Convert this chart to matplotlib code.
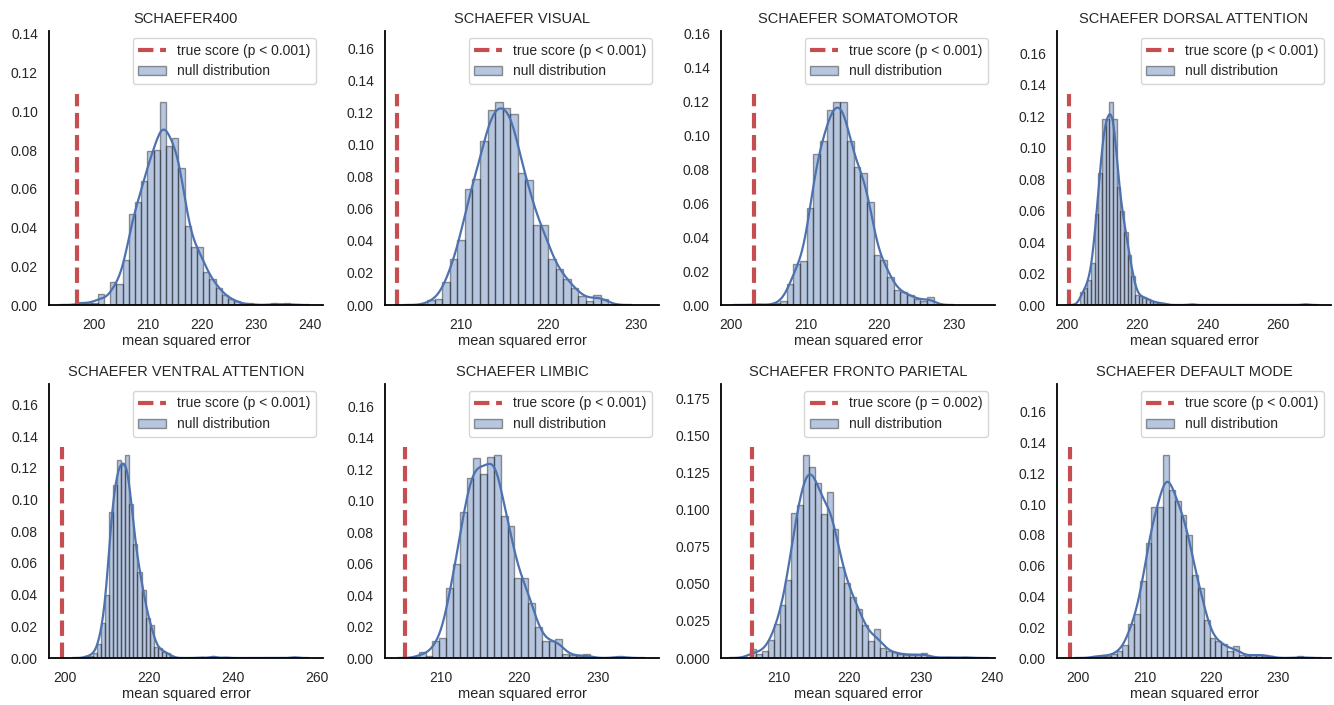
import matplotlib
matplotlib.use("Agg")
import matplotlib.pyplot as plt
import numpy as np
from matplotlib.lines import Line2D
from matplotlib.patches import Patch

plt.rcParams["font.family"] = ["Liberation Sans", "DejaVu Sans"]
plt.rcParams["text.color"] = "0.15"
plt.rcParams["axes.labelcolor"] = "0.15"
plt.rcParams["xtick.color"] = "0.15"
plt.rcParams["ytick.color"] = "0.15"

titles = ["SCHAEFER400", "SCHAEFER VISUAL", "SCHAEFER SOMATOMOTOR", "SCHAEFER DORSAL ATTENTION",
          "SCHAEFER VENTRAL ATTENTION", "SCHAEFER LIMBIC", "SCHAEFER FRONTO PARIETAL",
          "SCHAEFER DEFAULT MODE"]
p_labels = ["p < 0.001", "p < 0.001", "p < 0.001", "p < 0.001",
            "p < 0.001", "p < 0.001", "p = 0.002", "p < 0.001"]
true_scores = [196.9, 202.8, 203.0, 200.8, 199.3, 205.4, 206.2, 198.8]

# histogram bins: left edge of first bin, bin width, density per bin
bin_starts = [197.3, 206.2, 202.95, 203.8, 204.7, 207.2, 206.0, 202.25]
bin_widths = [1.146, 0.86, 0.903, 1.04, 0.97, 0.87, 0.83, 0.875]

h_s400 = [0.0014, 0.001, 0.001, 0.0057, 0.0, 0.0117, 0.011, 0.023, 0.047, 0.053, 0.064,
          0.0795, 0.080, 0.1048, 0.082, 0.086, 0.0708, 0.0407, 0.0297, 0.0297, 0.0172,
          0.0132, 0.009, 0.005, 0.003, 0.002, 0, 0.0008, 0, 0, 0, 0.0008, 0, 0.0008]
h_visual = [0.003, 0.004, 0.0144, 0.0288, 0.0407, 0.0726, 0.0788, 0.1025, 0.1214, 0.1265,
            0.1226, 0.119, 0.0823, 0.0778, 0.050, 0.050, 0.0284, 0.0226, 0.016, 0.0109,
            0.0058, 0.0027, 0.0062, 0.0037]
h_somato = [0.0007, 0, 0, 0.001, 0.0025, 0.0122, 0.0244, 0.0258, 0.0568, 0.0888, 0.0965,
            0.115, 0.1194, 0.1194, 0.0965, 0.081, 0.0777, 0.0605, 0.0297, 0.0267, 0.0167,
            0.0089, 0.0074, 0.0058, 0.0035, 0.0025, 0.0048]
h_dorsal = [0.008, 0.0105, 0.016, 0.027, 0.058, 0.084, 0.118, 0.118, 0.129, 0.118, 0.075,
            0.060, 0.0467, 0.032, 0.0184, 0.0063, 0.0059, 0.0048, 0.0038, 0.0027, 0.0017,
            0.0013, 0.0013, 0.0006, 0, 0, 0, 0, 0, 0, 0.0009] + [0] * 30 + [0.0009]
h_ventral = [0.001, 0.0015, 0.003, 0.009, 0.022, 0.040, 0.092, 0.109, 0.125, 0.122, 0.128,
             0.097, 0.072, 0.054, 0.043, 0.025, 0.021, 0.007, 0.006, 0.004, 0.003, 0.001,
             0, 0, 0, 0, 0, 0, 0.0006, 0, 0, 0.0015, 0, 0, 0.0006] \
    + [0] * 16 + [0.0009]
h_limbic = [0.0036, 0.0015, 0.011, 0.013, 0.0443, 0.060, 0.093, 0.1146, 0.127, 0.117,
            0.1276, 0.129, 0.090, 0.084, 0.051, 0.0506, 0.0348, 0.0194, 0.011, 0.0105,
            0.012, 0.0025, 0.002, 0.001, 0.0025, 0, 0, 0, 0, 0.0015]
h_fronto = [0.006, 0.0027, 0.005, 0.0119, 0.023, 0.0358, 0.0526, 0.098, 0.103, 0.137,
            0.129, 0.118, 0.0973, 0.112, 0.0868, 0.0615, 0.0508, 0.041, 0.0331, 0.022,
            0.0112, 0.0197, 0.0067, 0.0045, 0.0038, 0.0027, 0.0022, 0.0022, 0.0022, 0.0034,
            0.001, 0, 0, 0.001, 0, 0, 0.001]
h_default = [0.0015, 0.0015, 0.001, 0.0028, 0.0043, 0.0086, 0.022, 0.0284, 0.050, 0.075,
             0.098, 0.098, 0.132, 0.1095, 0.102, 0.093, 0.0797, 0.0539, 0.0453, 0.0248,
             0.0129, 0.0112, 0.009, 0.0047, 0.0075, 0.0022, 0.001, 0.0022, 0.0022, 0.0017,
             0.001, 0, 0, 0, 0, 0.001]
heights = [h_s400, h_visual, h_somato, h_dorsal, h_ventral, h_limbic, h_fronto, h_default]

x_limits = [(191.7, 242.4), (201.4, 232.6), (198.6, 235.6), (197.3, 275.0),
            (196.3, 261.4), (202.9, 237.8), (201.9, 240.5), (196.8, 238.0)]

n_perm = 1000
blue = "#4c72b0"
red = "#c44e52"

fig = plt.figure(figsize=(13.34, 7.05), dpi=100)

for i in range(8):
    row, col = divmod(i, 4)
    left = (49 + 336 * col) / 1334
    bottom = (1 - 305 / 705) if row == 0 else (1 - 658 / 705)
    ax = fig.add_axes([left, bottom, 274 / 1334, 274 / 705])

    h = np.array(heights[i], dtype=float)
    w = bin_widths[i]
    edges = bin_starts[i] + w * np.arange(len(h))
    keep = h > 0
    ax.bar(edges[keep], h[keep], width=w, align="edge", color=blue, alpha=0.4,
           edgecolor="black", linewidth=1.0)

    # gaussian kde of the binned null distribution
    centers = edges + w / 2
    mass = h * w
    mu = np.sum(mass * centers) / mass.sum()
    sd = np.sqrt(np.sum(mass * (centers - mu) ** 2) / mass.sum())
    bw = sd * n_perm ** (-0.2)
    lo = edges[keep][0] - 3 * bw
    hi = edges[keep][-1] + w + 3 * bw
    grid = np.linspace(lo, hi, 300)
    dens = (mass[None, :] * np.exp(-0.5 * ((grid[:, None] - centers[None, :]) / bw) ** 2)
            / (bw * np.sqrt(2 * np.pi))).sum(axis=1)
    ax.plot(grid, dens, color=blue, lw=1.6)

    hmax = h.max()
    ax.plot([true_scores[i], true_scores[i]], [0, hmax * 1.04], color=red, lw=3,
            linestyle="--")

    ax.set_xlim(*x_limits[i])
    ax.set_ylim(0, hmax * 1.35)
    ax.set_title(titles[i], fontsize=10.5, pad=6)
    ax.set_xlabel("mean squared error", fontsize=10.5, labelpad=2)
    ax.tick_params(labelsize=10, length=0)
    ax.tick_params(axis="x", pad=9)
    ax.tick_params(axis="y", pad=8)
    for s in ["top", "right"]:
        ax.spines[s].set_visible(False)
    for s in ["left", "bottom"]:
        ax.spines[s].set_color("black")
        ax.spines[s].set_linewidth(1.3)

    handles = [Line2D([0], [0], color=red, lw=3, linestyle="--"),
               Patch(facecolor=blue, alpha=0.4, edgecolor="black")]
    labels = ["true score (%s)" % p_labels[i], "null distribution"]
    ax.legend(handles, labels, loc="upper right", fontsize=10, frameon=True,
              edgecolor="0.8", fancybox=True)

fig.savefig("out.png", dpi=100)
